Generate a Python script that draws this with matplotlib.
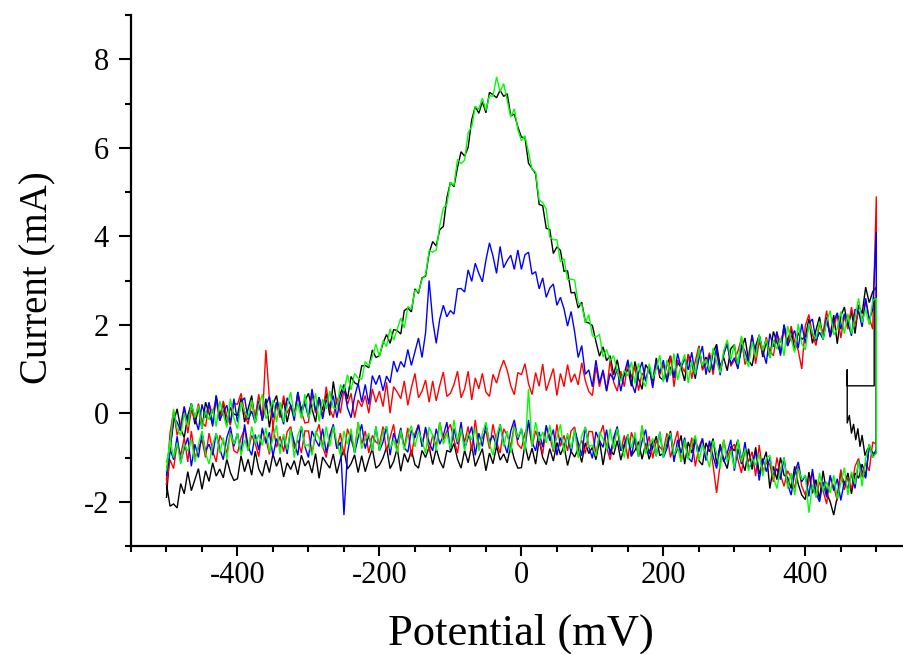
import numpy as np
import matplotlib
matplotlib.use("Agg")
import matplotlib.pyplot as plt
from matplotlib.ticker import MultipleLocator

# Potential scan grid (mV), forward -500 -> 500, reverse 500 -> -500
potential_mV = np.arange(-500, 501, 5)

# ---------------- forward (anodic) branches, current in mA, x increasing ----------------
black_fwd = [
    -1.9, -0.8, -0.2, 0.1, -0.35, -0.55, -0.05, 0.22, -0.25, 0.12, -0.35, 0.25, 0.0, -0.25, 0.4, -0.07, 0.23, -0.27, 0.13, -0.02,
    -0.05, 0.35, -0.2, 0.1, 0.4, -0.22, 0.23, -0.12, 0.33, -0.32, 0.2, 0.4, -0.05, 0.3, -0.2, 0.18, -0.07, 0.48, 0.08, 0.28,
    0.45, 0.1, -0.2, 0.36, 0.07, 0.45, -0.05, 0.72, 0.2, 0.45, 0.65, 0.32, 0.83, 0.69, 0.64, 1.07, 1.08, 1.03, 1.43, 1.26,
    1.3, 1.58, 1.78, 1.58, 1.89, 1.87, 1.79, 2.32, 2.38, 2.29, 2.81, 2.71, 3.06, 3.1, 3.62, 3.88, 3.78, 4.15, 4.22, 4.87,
    5.22, 5.12, 5.56, 5.91, 5.81, 6.01, 6.63, 6.93, 6.78, 7.04, 6.79, 7.25, 7.2, 7.13, 7.3, 7.16, 7.22, 6.72, 6.76, 6.47,
    6.24, 6.23, 5.65, 5.53, 5.41, 4.72, 4.69, 4.18, 4.15, 3.61, 3.76, 3.68, 3.21, 3.22, 2.72, 2.73, 2.38, 2.51, 2.07, 2.04,
    1.98, 1.62, 1.29, 1.5, 1.19, 1.3, 0.87, 1.21, 0.78, 0.85, 1.0, 0.61, 1.17, 0.78, 0.54, 1.1, 0.97, 0.73, 1.25, 0.81,
    0.75, 1.1, 1.3, 0.8, 1.15, 1.03, 0.73, 1.33, 1.13, 0.78, 1.52, 1.02, 1.27, 0.92, 1.37, 1.56, 1.06, 1.26, 0.96, 1.46,
    1.55, 1.05, 1.45, 1.7, 1.2, 1.07, 1.52, 1.77, 1.27, 1.62, 1.25, 1.85, 1.6, 1.35, 2.0, 1.62, 1.92, 1.42, 1.82, 1.67,
    1.73, 2.13, 1.58, 1.88, 2.18, 1.67, 2.12, 1.77, 2.22, 1.57, 2.2, 2.4, 1.95, 2.3, 1.8, 2.45, 2.25, 2.85, 2.5, 2.75,
    2.85]

green_fwd = [
    -1.1, -0.75, 0.1, -0.35, -0.5, 0.0, -0.3, 0.22, -0.1, 0.17, -0.35, 0.05, -0.15, 0.1, -0.3, 0.28, -0.02, -0.32, 0.33, -0.12,
    -0.35, 0.25, 0.05, -0.1, 0.3, -0.22, 0.18, 0.43, -0.12, 0.03, 0.3, -0.2, 0.25, -0.2, 0.15, 0.48, -0.07, 0.23, -0.12, 0.43,
    -0.1, 0.1, 0.45, -0.19, 0.32, 0.1, 0.5, 0.12, 0.1, 0.65, 0.5, 0.87, 0.53, 0.9, 0.79, 0.77, 1.17, 1.06, 1.28, 1.56,
    1.27, 1.64, 1.51, 1.91, 1.65, 1.9, 2.15, 1.93, 2.41, 2.35, 2.78, 2.74, 3.03, 3.13, 3.68, 3.64, 3.69, 4.24, 4.64, 4.72,
    5.22, 5.15, 5.74, 5.64, 5.72, 6.34, 6.48, 6.93, 6.87, 7.12, 6.84, 7.18, 7.16, 7.6, 7.27, 7.45, 7.07, 6.69, 6.88, 6.41,
    6.16, 6.27, 5.9, 5.51, 5.45, 4.82, 4.76, 4.61, 3.98, 3.92, 3.92, 3.42, 3.49, 3.02, 3.03, 3.01, 2.48, 2.46, 2.05, 2.23,
    1.75, 1.72, 1.78, 1.27, 1.44, 1.19, 1.3, 0.95, 0.72, 0.97, 0.85, 1.16, 0.67, 1.13, 0.79, 0.6, 1.12, 0.78, 1.0, 1.31,
    0.7, 1.2, 0.85, 1.35, 0.75, 1.08, 1.33, 0.68, 1.18, 0.88, 1.47, 1.07, 1.22, 0.97, 1.47, 1.16, 0.91, 1.41, 1.66, 1.21,
    1.55, 1.1, 1.75, 1.25, 1.05, 1.62, 1.27, 1.77, 1.42, 1.67, 1.25, 1.65, 1.45, 1.7, 1.3, 1.97, 1.67, 1.37, 2.02, 1.57,
    1.43, 2.03, 1.83, 1.68, 2.08, 1.67, 2.07, 2.32, 1.77, 1.92, 2.3, 1.8, 2.25, 1.8, 2.15, 2.6, 2.05, 2.35, 2.0, 2.55,
    2.6]

blue_fwd = [
    -1.3, -0.85, -0.1, -0.2, -0.4, 0.15, -0.25, 0.22, -0.1, -0.38, 0.2, -0.1, 0.25, -0.3, 0.4, -0.17, 0.03, 0.18, -0.22, 0.33,
    -0.2, 0.25, 0.35, -0.15, 0.05, -0.22, 0.28, -0.17, 0.18, 0.38, -0.1, 0.25, 0.05, -0.25, 0.35, 0.18, -0.17, 0.48, -0.02, 0.23,
    -0.1, 0.55, 0.05, 0.36, -0.13, 0.3, 0.15, 0.4, -0.1, 0.32, 0.6, 0.12, -0.1, 0.37, 0.68, 0.25, 0.65, 0.2, 0.85, 0.65,
    0.86, 0.51, 0.84, 0.69, 1.18, 0.93, 1.17, 1.04, 1.44, 1.08, 1.39, 1.7, 1.26, 1.82, 3.0, 2.1, 1.58, 2.13, 2.44, 2.18,
    2.32, 2.24, 2.81, 2.82, 2.74, 3.24, 2.98, 3.39, 3.16, 2.97, 3.46, 3.85, 3.55, 3.16, 3.77, 3.29, 3.45, 3.57, 3.25, 3.69,
    3.25, 3.58, 3.64, 3.14, 3.2, 2.81, 3.06, 2.62, 2.83, 2.92, 2.44, 2.62, 2.36, 1.97, 2.3, 1.84, 1.26, 1.53, 0.88, 0.98,
    0.6, 1.2, 0.68, 0.98, 0.5, 0.9, 0.75, 1.0, 0.5, 0.9, 1.21, 0.71, 0.46, 0.91, 1.16, 0.72, 1.07, 0.57, 1.17, 0.92,
    1.2, 0.7, 1.05, 0.8, 1.35, 1.03, 1.23, 0.98, 1.38, 0.83, 1.22, 1.52, 0.87, 1.32, 0.97, 1.51, 0.86, 1.36, 1.56, 1.11,
    1.25, 1.0, 1.55, 1.4, 1.15, 1.77, 1.32, 1.77, 1.42, 1.12, 1.8, 1.5, 1.85, 1.3, 2.0, 1.52, 1.72, 1.87, 1.47, 2.02,
    1.58, 2.03, 2.13, 1.63, 1.83, 1.67, 2.17, 1.72, 2.07, 2.27, 1.9, 2.25, 2.05, 1.75, 2.35, 2.3, 1.95, 2.6, 2.1, 2.35,
    4.1]

red_fwd = [
    -1.5, -0.45, 0.05, -0.5, -0.25, 0.15, -0.45, 0.07, -0.15, 0.22, -0.2, -0.3, 0.2, 0.0, 0.3, -0.17, 0.28, -0.07, -0.27, 0.23,
    0.2, 0.45, 0.0, -0.25, 0.25, -0.07, 0.43, -0.17, 1.43, 0.33, -0.3, 0.2, -0.1, 0.4, 0.0, 0.18, -0.07, 0.43, 0.03, -0.22,
    -0.2, 0.45, 0.0, 0.35, -0.1, 0.6, 0.1, -0.1, 0.35, 0.0, 0.55, 0.2, 0.45, -0.1, 0.3, 0.15, 0.4, 0.0, 0.55, 0.25,
    0.5, 0.15, 0.7, 0.0, 0.6, 0.48, 0.33, 0.73, 0.18, 0.58, 0.9, 0.35, 0.5, 0.75, 0.25, 0.73, 0.28, 0.63, 0.93, 0.38,
    0.45, 0.65, 0.95, 0.35, 0.55, 0.95, 0.3, 0.8, 0.55, 0.9, 0.48, 0.38, 0.88, 0.68, 0.98, 1.2, 0.97, 0.62, 0.42, 0.92,
    0.87, 1.12, 0.67, 0.42, 0.92, 0.61, 1.11, 0.51, 0.76, 1.01, 0.4, 0.9, 0.6, 1.1, 0.7, 0.89, 0.64, 1.14, 0.74, 0.49,
    0.4, 1.05, 0.6, 0.95, 0.5, 1.2, 0.7, 0.5, 0.95, 0.6, 1.16, 0.81, 1.06, 0.51, 0.91, 0.77, 1.02, 0.62, 1.17, 0.87,
    1.1, 0.75, 1.3, 0.6, 1.2, 1.08, 0.93, 1.33, 0.78, 1.18, 1.52, 0.97, 1.12, 1.37, 0.87, 1.41, 0.96, 1.31, 1.61, 1.06,
    1.2, 1.4, 1.7, 1.1, 1.3, 1.77, 1.12, 1.62, 1.37, 1.72, 1.4, 1.3, 1.8, 1.6, 1.9, 1.52, 1.97, 1.62, 1.42, 1.0,
    1.98, 2.23, 1.78, 1.53, 2.03, 1.82, 2.32, 1.72, 1.97, 2.22, 1.7, 2.2, 1.9, 2.4, 2.0, 2.3, 2.05, 2.55, 2.15, 1.9,
    4.9]

# ---------------- reverse (cathodic) branches, listed with x increasing ----------------
black_rev = [
    -1.6, -2.1, -2.05, -2.14, -1.59, -1.82, -1.32, -1.75, -1.5, -1.25, -1.72, -1.3, -1.54, -1.12, -1.42, -1.26, -1.46, -1.04, -1.34, -1.52,
    -1.48, -0.96, -1.32, -1.04, -1.4, -0.86, -1.26, -1.42, -1.06, -1.34, -0.92, -1.2, -1.0, -1.44, -1.12, -1.27, -1.07, -1.39, -0.95, -1.19,
    -1.07, -1.35, -0.91, -1.47, -0.99, -1.12, -1.24, -0.92, -1.36, -1.04, -0.82, -1.26, -1.14, -0.94, -1.34, -0.96, -1.32, -1.04, -0.8, -1.24,
    -1.17, -1.01, -0.77, -1.25, -1.09, -0.79, -1.31, -0.91, -1.11, -0.83, -1.16, -1.24, -0.84, -1.0, -0.76, -1.16, -0.8, -1.08, -1.24, -0.84,
    -0.88, -0.68, -1.04, -1.24, -0.84, -1.12, -0.72, -1.2, -1.0, -0.8, -1.3, -0.9, -1.14, -0.74, -1.06, -0.92, -1.12, -0.72, -1.04, -1.24,
    -1.23, -0.71, -1.07, -0.79, -1.15, -0.6, -1.0, -1.16, -0.8, -1.08, -0.66, -0.94, -0.74, -1.18, -0.86, -0.99, -0.79, -1.11, -0.67, -0.91,
    -0.77, -1.05, -0.61, -1.17, -0.69, -0.82, -0.94, -0.62, -1.06, -0.74, -0.52, -0.96, -0.84, -0.64, -1.04, -0.68, -1.04, -0.76, -0.52, -0.96,
    -0.9, -0.7, -0.4, -1.0, -0.8, -0.5, -1.15, -0.65, -0.9, -0.55, -1.07, -1.17, -0.67, -0.87, -0.57, -1.15, -0.7, -1.05, -1.25, -0.75,
    -0.85, -0.6, -1.05, -1.3, -0.8, -1.27, -0.77, -1.37, -1.12, -0.87, -1.7, -1.2, -1.5, -1.0, -1.4, -1.45, -1.7, -1.2, -1.6, -1.85,
    -1.95, -1.33, -1.81, -1.5, -1.95, -1.3, -1.8, -2.0, -2.3, -1.88, -1.32, -1.63, -1.35, -1.82, -1.35, -1.47, -1.15, -1.42, -0.75, -0.9,
    -0.9]

green_rev = [
    -1.3, -0.6, -1.0, -0.67, -1.15, -0.7, -0.85, -0.6, -1.1, -0.7, -0.4, -0.9, -1.15, -0.7, -0.45, -0.9, -0.55, -1.05, -0.45, -0.7,
    -0.45, -0.95, -0.6, -0.85, -0.3, -0.68, -0.48, -0.73, -0.33, -0.88, -0.57, -0.27, -0.92, -0.47, -0.82, -0.35, -1.0, -0.5, -0.3, -0.75,
    -0.7, -0.95, -0.4, -0.55, -0.8, -0.3, -0.75, -0.3, -0.65, -0.95, -0.4, -0.7, -0.35, -0.9, -0.2, -0.8, -0.6, -0.45, -0.85, -0.3,
    -0.85, -0.4, -0.3, -0.8, -0.6, -0.88, -0.38, -0.83, -0.48, -0.28, -0.76, -0.41, -0.61, -0.91, -0.31, -0.5, -0.85, -0.2, -0.7, -0.45,
    -0.8, -0.15, -0.65, -0.35, -0.85, -0.45, -0.6, -0.35, -0.85, -0.45, -0.2, -0.7, -0.95, -0.5, -0.25, -0.75, -0.4, -0.9, -0.3, -0.55,
    -0.35, -0.85, 0.55, -0.75, -0.2, -0.62, -0.42, -0.67, -0.27, -0.82, -0.55, -0.25, -0.9, -0.45, -0.8, -0.36, -1.01, -0.51, -0.31, -0.76,
    -0.72, -0.97, -0.42, -0.57, -0.82, -0.35, -0.8, -0.35, -0.7, -1.0, -0.48, -0.78, -0.43, -0.98, -0.28, -0.92, -0.72, -0.57, -0.97, -0.42,
    -1.0, -0.55, -0.45, -0.95, -0.75, -1.1, -0.6, -1.05, -0.7, -0.5, -1.07, -0.72, -0.92, -1.22, -0.62, -0.9, -1.25, -0.6, -1.1, -0.85,
    -1.25, -0.6, -1.1, -0.8, -1.3, -1.02, -1.17, -0.92, -1.42, -1.02, -0.95, -1.45, -1.7, -1.25, -1.0, -1.7, -1.35, -1.85, -1.25, -1.5,
    -1.4, -2.25, -1.61, -1.9, -1.35, -1.75, -1.55, -1.8, -1.4, -1.93, -1.57, -1.23, -1.85, -1.32, -1.6, -1.07, -1.65, -1.02, -0.7, -1.0,
    -0.9]

blue_rev = [
    -1.4, -0.8, -1.05, -0.52, -1.1, -0.8, -0.55, -1.2, -0.7, -1.0, -0.45, -0.85, -0.7, -0.95, -0.45, -0.8, -1.05, -0.55, -0.3, -0.75,
    -0.45, -0.9, -0.25, -0.75, -0.95, -0.48, -0.83, -0.33, -0.68, -0.43, -0.97, -0.57, -0.77, -0.52, -0.92, -0.35, -0.65, -0.95, -0.3, -0.75,
    -1.0, -0.4, -0.6, -0.75, -0.35, -0.9, -0.5, -0.25, -0.8, -0.65, -2.3, -0.9, -0.45, -0.9, -0.55, -0.25, -0.8, -0.5, -0.85, -0.3,
    -0.85, -0.65, -0.3, -0.95, -0.45, -0.68, -0.33, -0.78, -0.88, -0.38, -0.56, -0.26, -0.76, -0.31, -0.66, -0.85, -0.35, -0.7, -0.5, -0.2,
    -0.85, -0.35, -0.7, -0.2, -0.8, -0.55, -0.3, -0.95, -0.45, -0.75, -0.25, -0.65, -0.5, -0.75, -0.25, -0.65, -0.9, -0.4, -0.15, -0.6,
    -0.35, -0.8, -0.15, -0.65, -0.85, -0.42, -0.77, -0.27, -0.62, -0.37, -0.95, -0.55, -0.75, -0.5, -0.9, -0.36, -0.66, -0.96, -0.31, -0.76,
    -1.02, -0.42, -0.62, -0.77, -0.37, -0.95, -0.55, -0.3, -0.85, -0.7, -0.48, -0.98, -0.53, -0.98, -0.63, -0.37, -0.92, -0.62, -0.97, -0.42,
    -1.0, -0.8, -0.45, -1.1, -0.6, -0.9, -0.55, -1.0, -1.1, -0.6, -0.87, -0.57, -1.07, -0.62, -0.97, -1.25, -0.75, -1.1, -0.9, -0.6,
    -1.3, -0.8, -1.15, -0.65, -1.25, -1.12, -0.87, -1.52, -1.02, -1.32, -1.0, -1.4, -1.25, -1.5, -1.0, -1.6, -1.85, -1.35, -1.1, -1.55,
    -1.4, -1.88, -1.26, -1.8, -2.0, -1.55, -1.9, -1.4, -1.75, -1.48, -1.97, -1.53, -1.7, -1.37, -1.7, -1.07, -1.3, -1.47, -0.7, -1.0,
    -0.8]

red_rev = [
    -1.6, -1.05, -1.25, -0.67, -0.95, -0.55, -1.1, -0.4, -1.0, -0.8, -0.6, -1.0, -0.45, -0.85, -1.1, -0.5, -0.65, -0.9, -0.4, -0.85,
    -0.9, -0.55, -0.35, -0.85, -0.5, -0.68, -0.98, -0.38, -0.58, -0.93, -0.27, -0.77, -0.52, -0.87, -0.42, -0.3, -0.8, -0.6, -0.9, -0.4,
    -0.4, -0.9, -0.5, -0.25, -0.75, -1.0, -0.55, -0.3, -0.8, -0.45, -0.95, -0.35, -0.6, -0.85, -0.2, -0.7, -0.4, -0.9, -0.5, -0.65,
    -0.7, -0.3, -0.85, -0.55, -0.25, -0.88, -0.43, -0.78, -0.33, -0.98, -0.46, -0.26, -0.71, -0.36, -0.86, -0.5, -0.75, -0.2, -0.6, -0.4,
    -0.25, -0.6, -0.9, -0.35, -0.65, -0.3, -0.85, -0.15, -0.75, -0.55, -0.4, -0.8, -0.25, -0.65, -0.9, -0.35, -0.5, -0.75, -0.25, -0.7,
    -0.8, -0.45, -0.25, -0.75, -0.4, -0.62, -0.92, -0.32, -0.52, -0.87, -0.25, -0.75, -0.5, -0.85, -0.4, -0.31, -0.81, -0.61, -0.91, -0.41,
    -0.42, -0.92, -0.52, -0.27, -0.77, -1.05, -0.6, -0.35, -0.85, -0.5, -1.03, -0.43, -0.68, -0.93, -0.28, -0.82, -0.52, -1.02, -0.62, -0.77,
    -0.85, -0.45, -1.0, -0.7, -0.4, -1.1, -0.65, -1.0, -0.55, -1.2, -0.77, -0.57, -1.02, -0.67, -1.17, -1.8, -1.15, -0.6, -1.0, -0.8,
    -0.7, -1.05, -1.35, -0.8, -1.1, -0.87, -1.42, -0.72, -1.32, -1.12, -1.15, -1.55, -1.0, -1.4, -1.65, -1.3, -1.45, -1.7, -1.2, -1.65,
    -1.85, -1.53, -1.36, -1.9, -1.55, -1.75, -2.05, -1.45, -1.65, -1.98, -1.27, -1.73, -1.45, -1.72, -1.2, -1.02, -1.45, -1.12, -1.3, -0.65,
    -0.7]

# small artefact of the black scan near the switching potential
black_glitch_x = [497, 497, 459, 459, 459, 462, 465, 468, 471, 474, 477, 480, 484, 488]
black_glitch_y = [2.6, 0.62, 0.62, 0.98, -0.22, -0.05, -0.45, -0.25, -0.6, -0.35, -0.75, -0.5, -0.95, -0.8]

series = [
    ("#000000", black_fwd, black_rev),
    ("#ff0000", red_fwd, red_rev),
    ("#0000ff", blue_fwd, blue_rev),
    ("#00ff00", green_fwd, green_rev),
]

plt.rcParams["font.family"] = ["Liberation Serif", "DejaVu Serif"]
plt.rcParams["axes.unicode_minus"] = False

fig = plt.figure(figsize=(9.04, 6.54), dpi=100)
ax = fig.add_axes([131 / 904, 1 - 546 / 654, (904 - 131) / 904, (546 - 15) / 654])

for color, fwd, rev in series:
    assert len(fwd) == len(potential_mV) and len(rev) == len(potential_mV)
    xs = np.concatenate([potential_mV, potential_mV[::-1]])
    ys = np.concatenate([np.asarray(fwd), np.asarray(rev)[::-1]])
    ax.plot(xs, ys, color=color, lw=1.0, solid_joinstyle="miter")
    if color == "#000000":
        ax.plot(black_glitch_x, black_glitch_y, color=color, lw=1.0)

ax.set_xlim(-550, 539)
ax.set_ylim(-3, 9)
for s in ("top", "right"):
    ax.spines[s].set_visible(False)
for s in ("left", "bottom"):
    ax.spines[s].set_linewidth(1.6)
ax.spines["bottom"].set_capstyle("projecting")

ax.xaxis.set_major_locator(MultipleLocator(200))
ax.xaxis.set_minor_locator(MultipleLocator(50))
ax.yaxis.set_major_locator(MultipleLocator(2))
ax.yaxis.set_minor_locator(MultipleLocator(1))
ax.tick_params(axis="x", which="major", direction="out", length=7, width=1.5, labelsize=22, pad=4)
ax.tick_params(axis="x", which="minor", direction="out", length=4, width=1.5)
ax.tick_params(axis="y", which="major", direction="out", length=9, width=1.5, labelsize=22, pad=7)
ax.tick_params(axis="y", which="minor", direction="out", length=4.5, width=1.5)

fig.text(521 / 904, 1 - 645 / 654, "Potential (mV)", fontsize=32, ha="center", va="baseline")
fig.text(47 / 904, 1 - 278 / 654, "Current (mA)", fontsize=28, rotation=90,
         rotation_mode="anchor", ha="center", va="baseline")

fig.savefig("out.png", dpi=100)
